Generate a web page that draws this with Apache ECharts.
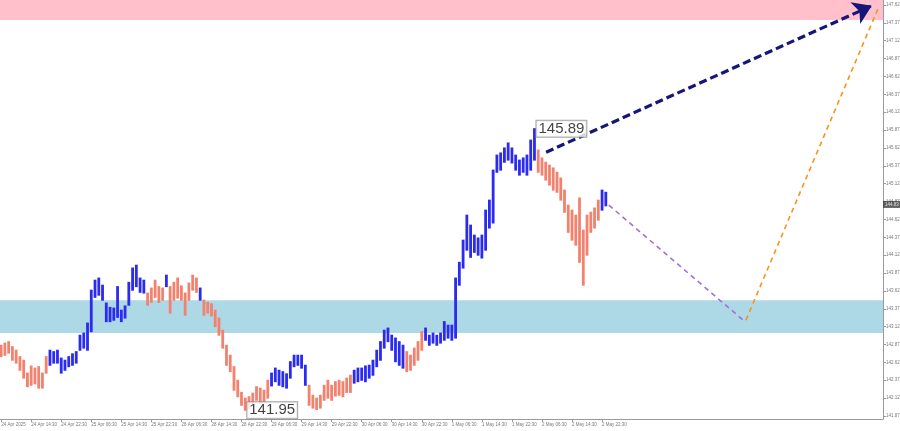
<!DOCTYPE html>
<html><head><meta charset="utf-8">
<script src="https://cdn.jsdelivr.net/npm/echarts@6/dist/echarts.min.js"></script>
<style>html,body{margin:0;padding:0;background:#fff}#c{width:900px;height:431px}</style>
</head><body><div id="c"></div>
<script>
// ---- data (USDJPY, hourly bars) ----
const barHigh = [142.86,142.89,142.91,142.84,142.79,142.70,142.65,142.47,142.57,142.54,
142.56,142.47,142.70,142.79,142.77,142.79,142.68,142.65,142.70,142.74,
142.77,143.00,143.03,143.17,143.63,143.77,143.80,143.70,143.45,143.39,
143.38,143.68,143.35,143.41,143.74,143.94,143.98,143.80,143.77,143.59,
143.66,143.77,143.68,143.66,143.84,143.68,143.74,143.80,143.69,143.59,
143.73,143.84,143.80,143.66,143.49,143.46,143.44,143.35,143.24,143.07,
142.86,142.72,142.56,142.37,142.20,142.12,142.14,142.19,142.28,142.26,
142.23,142.37,142.47,142.54,142.51,142.49,142.46,142.63,142.72,142.72,
142.72,142.58,142.30,142.16,142.12,142.16,142.30,142.37,142.30,142.35,
142.37,142.35,142.40,142.44,142.51,142.54,142.54,142.57,142.58,142.65,
142.79,142.91,143.07,143.10,143.00,142.96,142.91,142.86,142.77,142.72,
142.82,142.91,143.05,143.10,143.00,143.03,143.00,143.03,143.19,143.14,
143.14,143.80,144.02,144.33,144.68,144.54,144.40,144.36,144.40,144.75,
144.89,145.31,145.52,145.55,145.62,145.69,145.62,145.52,145.45,145.48,
145.52,145.73,145.89,145.59,145.48,145.42,145.38,145.34,145.28,145.20,
145.03,144.82,144.75,144.68,144.92,144.47,144.68,144.72,144.78,144.89,
145.03,145.00];
const barLow = [142.70,142.72,142.75,142.65,142.61,142.51,142.40,142.28,142.30,142.32,
142.26,142.26,142.47,142.58,142.61,142.61,142.47,142.51,142.56,142.58,
142.61,142.79,142.82,142.79,143.05,143.53,143.56,143.49,143.19,143.19,
143.21,143.25,143.19,143.24,143.42,143.63,143.68,143.60,143.59,143.42,
143.46,143.53,143.46,143.49,143.68,143.31,143.49,143.52,143.49,143.28,
143.49,143.63,143.60,143.49,143.28,143.31,143.27,143.12,143.00,142.82,
142.58,142.49,142.23,142.14,142.02,141.95,141.98,142.01,142.09,142.05,
142.07,142.12,142.29,142.35,142.30,142.28,142.26,142.40,142.56,142.58,
142.54,142.30,142.02,141.98,141.96,141.98,142.09,142.12,142.09,142.15,
142.16,142.14,142.20,142.20,142.33,142.35,142.37,142.35,142.40,142.44,
142.56,142.65,142.82,142.91,142.79,142.63,142.58,142.54,142.49,142.51,
142.58,142.65,142.79,142.93,142.86,142.89,142.86,142.89,142.93,142.96,
142.93,142.96,143.70,143.94,144.19,144.09,144.16,144.12,144.08,144.19,
144.50,144.57,145.28,145.31,145.42,145.45,145.41,145.31,145.24,145.28,
145.24,145.31,145.45,145.28,145.24,145.17,145.10,145.03,145.00,144.89,
144.72,144.44,144.33,144.26,144.02,143.70,144.12,144.44,144.50,144.61,
144.75,144.81];
// wave colouring: [number of bars, direction] (1 = up wave, 0 = down wave)
const waveRuns = [[13,0],[26,1],[5,0],[1,1],[8,0],[1,1],[18,0],[10,1],[12,0],[14,1],[5,0],[30,1],[17,0],[2,1]];
const xTickLabels = ["24 Apr 2025","24 Apr 14:30","24 Apr 22:30","25 Apr 06:30","25 Apr 14:30","25 Apr 22:30",
"28 Apr 06:30","28 Apr 14:30","28 Apr 22:30","29 Apr 06:30","29 Apr 14:30","29 Apr 22:30",
"30 Apr 06:30","30 Apr 14:30","30 Apr 22:30","1 May 06:30","1 May 14:30","1 May 22:30",
"2 May 06:30","2 May 14:30","2 May 22:30"];
const yTickLabels = [141.87,142.12,142.37,142.62,142.87,143.12,143.37,143.62,143.87,144.12,144.37,144.62,
144.87,145.12,145.37,145.62,145.87,146.12,146.37,146.62,146.87,147.12,147.37,147.62];
const resistanceZone = [147.41, 147.72];
const supportZone = [143.03, 143.49];
const lastPrice = 144.83;
const peakPoint = [142, 145.89];
const troughPoint = [65, 141.95];
const forecastMain = [[145.1, 145.56], [231.8, 147.61]];
const forecastDown = [[161.8, 144.82], [197.6, 143.21]];
const forecastUp = [[198.3, 143.21], [233.4, 147.56]];
const headerText = 'USDJPY,M30  144.89 144.89 144.82 144.83';

// ---- build ----
const BARS_PER_LABEL = 8;
const X_MAX = 234.8;
const dirFlags = [];
waveRuns.forEach(([n, d]) => { for (let k = 0; k < n; k++) dirFlags.push(d); });
const barColors = ['#f2826e', '#2a2af0'];
const barData = barHigh.map((h, i) => [i, barLow[i], h, dirFlags[i]]);
const xTickPos = xTickLabels.map((_, k) => k * BARS_PER_LABEL);

const chart = echarts.init(document.getElementById('c'), null, {renderer: 'canvas'});
const small = {fontSize: 4.5, color: '#7a7a7a', fontFamily: 'Liberation Sans'};
chart.setOption({
  animation: false,
  backgroundColor: '#fff',
  grid: {left: 0, top: 0, right: 17, bottom: 12, outerBoundsMode: 'none', containLabel: false},
  xAxis: {
    type: 'value', min: -0.3, max: X_MAX,
    axisLine: {show: true, onZero: false, lineStyle: {color: '#9a9a9a', width: 1}},
    axisTick: {show: true, customValues: xTickPos, length: 3, lineStyle: {color: '#9a9a9a'}},
    axisLabel: Object.assign({customValues: xTickPos, align: 'left', margin: 3, showMinLabel: true, hideOverlap: false,
      formatter: v => xTickLabels[Math.round(v / BARS_PER_LABEL)] || ''}, small),
    splitLine: {show: false}
  },
  yAxis: {
    type: 'value', position: 'right', min: 141.828, max: 147.69, scale: true,
    axisLine: {show: true, onZero: false, lineStyle: {color: '#9a9a9a', width: 1}},
    axisTick: {show: true, customValues: yTickLabels, length: 3, lineStyle: {color: '#9a9a9a'}},
    axisLabel: Object.assign({customValues: yTickLabels, margin: 3, hideOverlap: false, formatter: v => v.toFixed(2)}, small),
    splitLine: {show: false}
  },
  graphic: [{type: 'text', left: 4, top: 4, style: {text: '\u25BE ' + headerText, fill: '#8a8a8a', fontSize: 4.5, fontFamily: 'Liberation Sans'}}],
  series: [
    {
      type: 'line', z: 1, data: forecastDown, showSymbol: false, silent: true,
      lineStyle: {color: '#a070d8', width: 1.6, type: [5, 4]},
      markArea: {silent: true, itemStyle: {opacity: 1}, data: [
        [{yAxis: resistanceZone[0], itemStyle: {color: '#ffc0cb'}}, {yAxis: resistanceZone[1]}],
        [{yAxis: supportZone[0], itemStyle: {color: '#add8e6'}}, {yAxis: supportZone[1]}]
      ]}
    },
    {
      type: 'custom', z: 3, data: barData, encode: {x: 0, y: [1, 2]},
      renderItem: (params, api) => {
        const i = api.value(0);
        const hi = api.coord([i, api.value(2)]);
        const lo = api.coord([i, api.value(1)]);
        return {type: 'line', shape: {x1: hi[0], y1: hi[1] - 0.5, x2: lo[0], y2: lo[1] + 0.5},
          style: {stroke: barColors[api.value(3)], lineWidth: 2.8}};
      }
    },
    {
      type: 'line', z: 4, data: forecastUp, showSymbol: false, silent: true,
      lineStyle: {color: '#f7941d', width: 1.6, type: [5, 4]}
    },
    {
      type: 'line', z: 5, data: forecastMain, showSymbol: false, silent: true,
      lineStyle: {opacity: 0},
      markLine: {silent: true, symbol: ['none', 'arrow'], symbolSize: 18,
        label: {show: false},
        lineStyle: {color: '#16167a', width: 3.2, type: [8, 4]},
        data: [[{coord: forecastMain[0]}, {coord: forecastMain[1]}]]}
    },
    {
      type: 'scatter', z: 6, symbolSize: 0, silent: true,
      data: [peakPoint, troughPoint],
      label: {show: true, position: 'right', distance: 2, formatter: p => p.value[1].toFixed(2),
        fontSize: 15, fontFamily: 'Liberation Sans', color: '#111', backgroundColor: '#fff',
        borderColor: '#8c8c8c', borderWidth: 1, padding: [1, 2, 0, 2]}
    },
    {
      type: 'scatter', z: 7, silent: true, clip: false,
      data: [[X_MAX, lastPrice]], symbolSize: 0,
      label: {show: true, position: 'right', distance: 0, formatter: () => lastPrice.toFixed(2),
        fontSize: 4.5, fontFamily: 'Liberation Sans', color: '#fff', backgroundColor: '#3a3a3a', padding: [1, 3, 1, 2]}
    }
  ]
});
</script></body></html>
